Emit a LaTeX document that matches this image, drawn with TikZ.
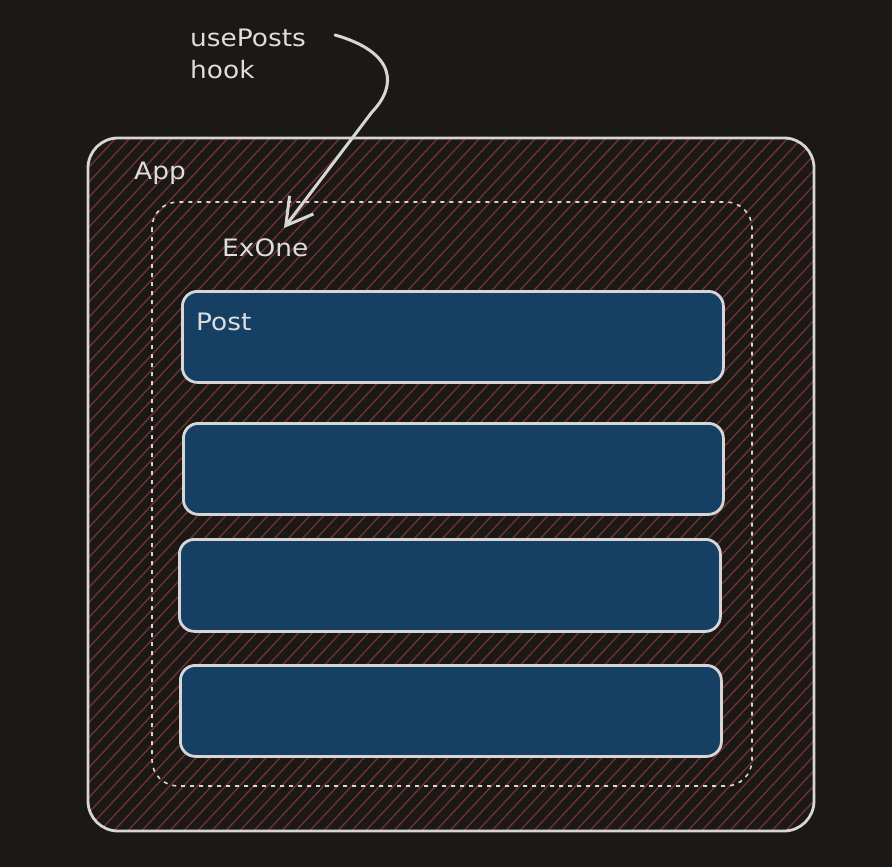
\documentclass[tikz,border=0pt]{standalone}
\usepackage{fontspec}
\setmainfont[FakeStretch=1.1]{DejaVu Sans}
\usetikzlibrary{arrows.meta}
\definecolor{bgc}{HTML}{1B1816}
\definecolor{linec}{HTML}{D6D6D6}
\definecolor{hatchc}{HTML}{6B3333}
\definecolor{postc}{HTML}{164063}
\definecolor{textc}{HTML}{DDDDDD}
\tikzset{
  lbl/.style={text=textc, font=\fontsize{24}{28}\selectfont, inner sep=0pt, anchor=base west, align=left},
  postbox/.style={draw=linec, line width=2.8pt, fill=postc, rounded corners=15pt},
  appbox/.style={draw=linec, line width=2.8pt, rounded corners=30pt},
  dashbox/.style={draw=linec, line width=1.6pt, dash pattern=on 4pt off 5pt, rounded corners=26pt},
  hatchline/.style={draw=hatchc, line width=1.4pt},
  hookarrow/.style={draw=linec, line width=3pt, line cap=round, -{Straight Barb[length=26pt,width=30pt,line width=3pt]}}
}
\begin{document}
\begin{tikzpicture}[x=1pt,y=-1pt]
\useasboundingbox (0,0) rectangle (892,867);
\fill[bgc] (0,0) rectangle (892,867);
% App hatched fill
\begin{scope}
  \clip[rounded corners=30pt] (88,138) rectangle (814,831);
  \foreach \x in {-800,-786,...,900} {
    \draw[hatchline] (\x,880) -- ++(830,-890);
  }
\end{scope}
\draw[appbox] (88,138) rectangle (814,831);
\draw[dashbox] (152,202) rectangle (752,786);
% posts
\node[postbox, minimum width=541pt, minimum height=91pt, anchor=north west] (p1) at (181,290) {};
\node[postbox, minimum width=540pt, minimum height=91pt, anchor=north west] (p2) at (182,422) {};
\node[postbox, minimum width=541pt, minimum height=92pt, anchor=north west] (p3) at (178,538) {};
\node[postbox, minimum width=541pt, minimum height=91pt, anchor=north west] (p4) at (179,664) {};
% labels
\node[lbl] (app) at (134,179) {App};
\node[lbl] (exone) at (222,256) {ExOne};
\node[lbl] (post) at (196,330) {Post};
\node[lbl] (hook1) at (190,47) {usePosts};
\node[lbl] (hook2) at (190,79) {hook};
% arrow
\coordinate (as) at (335,35);
\coordinate (am) at (372,112);
\coordinate (ae) at (284,228);
\draw[hookarrow] (as) .. controls (395,52) and (398,85) .. (am) -- (ae);
\end{tikzpicture}
\end{document}
